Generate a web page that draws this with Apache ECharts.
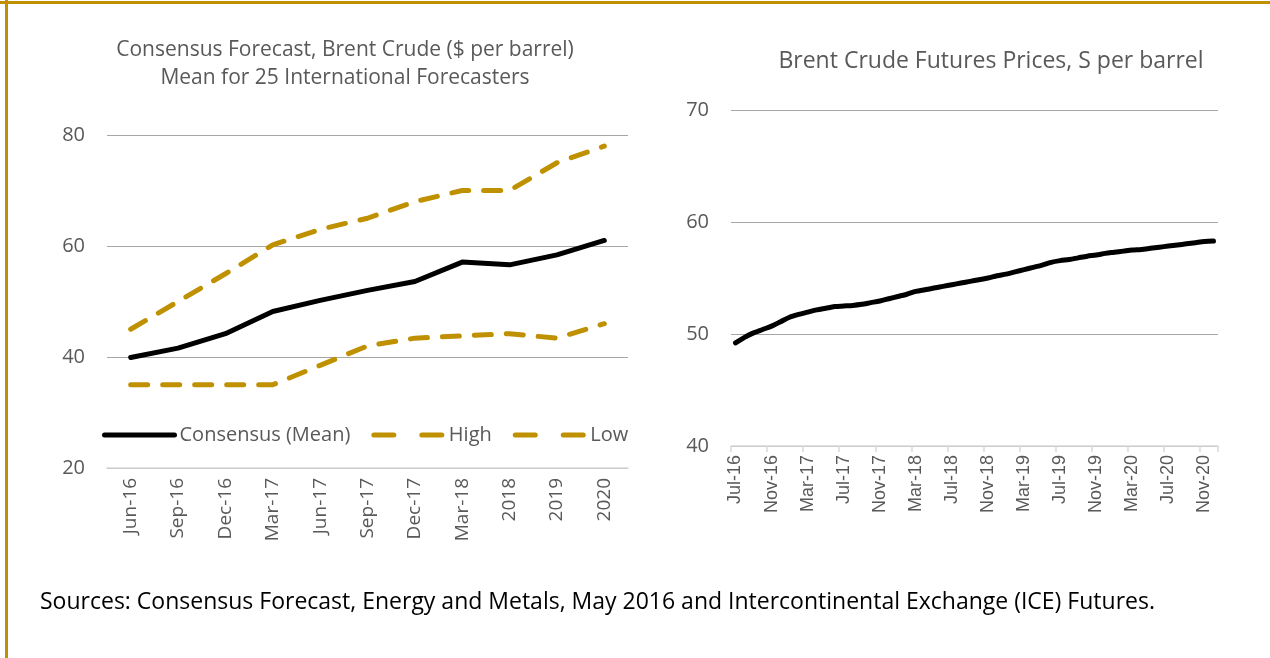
<!DOCTYPE html>
<html>
<head>
<meta charset="utf-8">
<script src="https://cdn.jsdelivr.net/npm/echarts@6/dist/echarts.min.js"></script>
<style>
  html, body { margin: 0; padding: 0; background: #fff; }
  #container { width: 1270px; height: 658px; }
</style>
</head>
<body>
<div id="container"></div>
<script>
// 左图：共识预测
const forecastCats = ['Jun-16', 'Sep-16', 'Dec-16', 'Mar-17', 'Jun-17', 'Sep-17', 'Dec-17', 'Mar-18', '2018', '2019', '2020']
const consensusMean = [39.9, 41.6, 44.2, 48.2, 50.2, 52.0, 53.6, 57.1, 56.6, 58.4, 61.0]
const forecastHigh = [45, 50, 55, 60.2, 63, 65, 68, 70, 70, 75, 78]
const forecastLow = [35, 35, 35, 35, 38.5, 42, 43.4, 43.8, 44.2, 43.4, 46]

// 右图：期货价格（按月）
const futuresMonths = [
  'Jul-16', 'Aug-16', 'Sep-16', 'Oct-16', 'Nov-16', 'Dec-16',
  'Jan-17', 'Feb-17', 'Mar-17', 'Apr-17', 'May-17', 'Jun-17', 'Jul-17', 'Aug-17', 'Sep-17', 'Oct-17', 'Nov-17', 'Dec-17',
  'Jan-18', 'Feb-18', 'Mar-18', 'Apr-18', 'May-18', 'Jun-18', 'Jul-18', 'Aug-18', 'Sep-18', 'Oct-18', 'Nov-18', 'Dec-18',
  'Jan-19', 'Feb-19', 'Mar-19', 'Apr-19', 'May-19', 'Jun-19', 'Jul-19', 'Aug-19', 'Sep-19', 'Oct-19', 'Nov-19', 'Dec-19',
  'Jan-20', 'Feb-20', 'Mar-20', 'Apr-20', 'May-20', 'Jun-20', 'Jul-20', 'Aug-20', 'Sep-20', 'Oct-20', 'Nov-20', 'Dec-20'
]
const futuresPrice = [
  49.2, 49.7, 50.1, 50.4, 50.7, 51.1,
  51.5, 51.75, 51.95, 52.15, 52.3, 52.45, 52.5, 52.55, 52.65, 52.8, 52.95, 53.15,
  53.35, 53.55, 53.8, 53.95, 54.1, 54.25, 54.4, 54.55, 54.7, 54.85, 55.0, 55.2,
  55.35, 55.55, 55.75, 55.95, 56.15, 56.4, 56.55, 56.65, 56.8, 56.95, 57.05, 57.2,
  57.3, 57.4, 57.5, 57.55, 57.65, 57.75, 57.85, 57.95, 58.05, 58.15, 58.25, 58.3
]

const gold = '#BF9000'
const textGray = '#595959'
const font = '"Open Sans", "Noto Sans", sans-serif'

const option = {
  animation: false,
  textStyle: { fontFamily: font },
  title: [
    {
      text: 'Consensus Forecast, Brent Crude ($ per barrel)\nMean for 25 International Forecasters',
      left: 340,
      top: 31,
      textAlign: 'center',
      textStyle: { color: textGray, fontSize: 21, fontWeight: 'normal', lineHeight: 28, fontFamily: font }
    },
    {
      text: 'Brent Crude Futures Prices, S per barrel',
      left: 986,
      top: 45,
      textAlign: 'center',
      textStyle: { color: textGray, fontSize: 23, fontWeight: 'normal', fontFamily: font }
    },
    {
      text: 'Sources: Consensus Forecast, Energy and Metals, May 2016 and Intercontinental Exchange (ICE) Futures.',
      left: 35,
      top: 586,
      textStyle: { color: '#000', fontSize: 23, fontWeight: 'normal', fontFamily: font }
    }
  ],
  legend: {
    left: 97,
    top: 420,
    itemWidth: 70,
    itemHeight: 24,
    itemGap: 21,
    data: [
      { name: 'Consensus (Mean)' },
      { name: 'High', lineStyle: { type: [20, 28], width: 5, cap: 'round' } },
      { name: 'Low', lineStyle: { type: [20, 28], width: 5, cap: 'round' } }
    ],
    itemStyle: { opacity: 0 },
    lineStyle: { width: 5 },
    textStyle: { color: textGray, fontSize: 20, fontFamily: font }
  },
  grid: [
    { left: 107, right: 642, top: 135, bottom: 190 },
    { left: 731, right: 52, top: 110, bottom: 212 }
  ],
  xAxis: [
    {
      gridIndex: 0,
      type: 'category',
      data: forecastCats,
      boundaryGap: true,
      axisTick: { show: false },
      axisLine: { lineStyle: { color: '#d9d9d9', width: 1.5 } },
      axisLabel: { rotate: 90, color: textGray, fontSize: 19, margin: 10, interval: 0 }
    },
    {
      gridIndex: 1,
      type: 'category',
      data: futuresMonths,
      boundaryGap: true,
      axisTick: { show: true, interval: 3, length: 6, lineStyle: { color: '#d9d9d9', width: 1.5 } },
      axisLine: { lineStyle: { color: '#d9d9d9', width: 1.5 } },
      axisLabel: { rotate: 90, color: textGray, fontSize: 18, margin: 9, interval: 3, fontFamily: '"Liberation Sans", Arial, sans-serif' }
    }
  ],
  yAxis: [
    {
      gridIndex: 0,
      type: 'value',
      min: 20,
      max: 80,
      interval: 20,
      axisLine: { show: false },
      axisTick: { show: false },
      splitLine: { lineStyle: { color: '#a6a6a6', width: 1.2 } },
      axisLabel: { color: textGray, fontSize: 20, margin: 22 }
    },
    {
      gridIndex: 1,
      type: 'value',
      min: 40,
      max: 70,
      interval: 10,
      axisLine: { show: false },
      axisTick: { show: false },
      splitLine: { lineStyle: { color: '#a6a6a6', width: 1.2 } },
      axisLabel: { color: textGray, fontSize: 20, margin: 22 }
    }
  ],
  series: [
    {
      name: 'Consensus (Mean)',
      type: 'line',
      xAxisIndex: 0,
      yAxisIndex: 0,
      data: consensusMean,
      symbol: 'none',
      itemStyle: { color: '#000' },
      lineStyle: { color: '#000', width: 5, cap: 'round', join: 'round' },
      z: 3
    },
    {
      name: 'High',
      type: 'line',
      xAxisIndex: 0,
      yAxisIndex: 0,
      data: forecastHigh,
      symbol: 'none',
      itemStyle: { color: gold },
      lineStyle: { color: gold, width: 5, type: [17, 15], cap: 'round', join: 'round' }
    },
    {
      name: 'Low',
      type: 'line',
      xAxisIndex: 0,
      yAxisIndex: 0,
      data: forecastLow,
      symbol: 'none',
      itemStyle: { color: gold },
      lineStyle: { color: gold, width: 5, type: [17, 15], cap: 'round', join: 'round' }
    },
    {
      name: 'Futures',
      type: 'line',
      xAxisIndex: 1,
      yAxisIndex: 1,
      data: futuresPrice,
      symbol: 'none',
      smooth: 0.3,
      itemStyle: { color: '#000' },
      lineStyle: { color: '#000', width: 5, cap: 'round', join: 'round' }
    }
  ],
  graphic: [
    // 外框线（上、左）
    { type: 'rect', shape: { x: 0, y: 1, width: 1270, height: 3 }, style: { fill: gold }, silent: true },
    { type: 'rect', shape: { x: 5, y: 0, width: 3, height: 658 }, style: { fill: gold }, silent: true }
  ]
}

const dom = document.getElementById('container')
const myChart = echarts.init(dom)
myChart.setOption(option)
</script>
</body>
</html>
